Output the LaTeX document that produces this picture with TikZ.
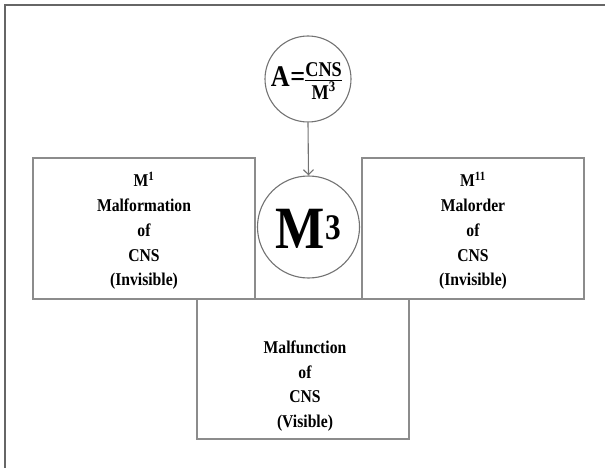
\documentclass[tikz,border=0pt]{standalone}
\usepackage{fontspec}
\usepackage{amsmath}
\setmainfont{Liberation Serif}[FakeStretch=0.87]
\usetikzlibrary{arrows.meta}
\begin{document}
\begin{tikzpicture}[x=1pt,y=-1pt,
  boxline/.style={draw=black!45,line width=1.2pt},
  txt/.style={align=center,font=\fontsize{18}{24.7}\selectfont\bfseries,inner sep=0pt},
  circ/.style={circle,draw=black!55,line width=1.1pt,inner sep=0pt}]
\useasboundingbox (0,0) rectangle (605,468);
% outer frame (top and left visible)
\draw[draw=black!60,line width=1.6pt] (5,468) -- (5,5) -- (605,5);
% boxes
\node[boxline,minimum width=222pt,minimum height=141pt,inner sep=0pt] (left) at (144,228.5) {};
\node[boxline,minimum width=222pt,minimum height=141pt,inner sep=0pt] (right) at (473,228.5) {};
\node[boxline,minimum width=212pt,minimum height=140pt,inner sep=0pt] (bottom) at (303,369) {};
% texts
\node[txt] (lt) at (144,231) {M\textsuperscript{1}\\Malformation\\of\\CNS\\(Invisible)};
\node[txt] (rt) at (473,231) {M\textsuperscript{11}\\Malorder\\of\\CNS\\(Invisible)};
\node[txt] (bt) at (305,386) {Malfunction\\of\\CNS\\(Visible)};
% circles
\node[circ,minimum size=86pt] (A) at (308,79) {};
\node[inner sep=0pt,font=\fontsize{30}{32}\selectfont\bfseries] (Atxt) at (307,81)
  {A\kern0.5pt=\kern-1pt$\frac{\text{\bfseries CNS}}{\text{\bfseries M\textsuperscript{3}}}$};
\node[circ,minimum size=102pt] (M) at (308.5,227) {};
\node[inner sep=0pt,font=\fontsize{60}{60}\selectfont\bfseries] (Mtxt) at (308.5,229) {M\textsuperscript{\fontsize{36}{36}\selectfont 3}};
% arrow
\draw[draw=black!55,line width=1.1pt,-{Straight Barb[length=5pt,width=10pt]}] (A.south) -- (M.north);
\end{tikzpicture}
\end{document}
